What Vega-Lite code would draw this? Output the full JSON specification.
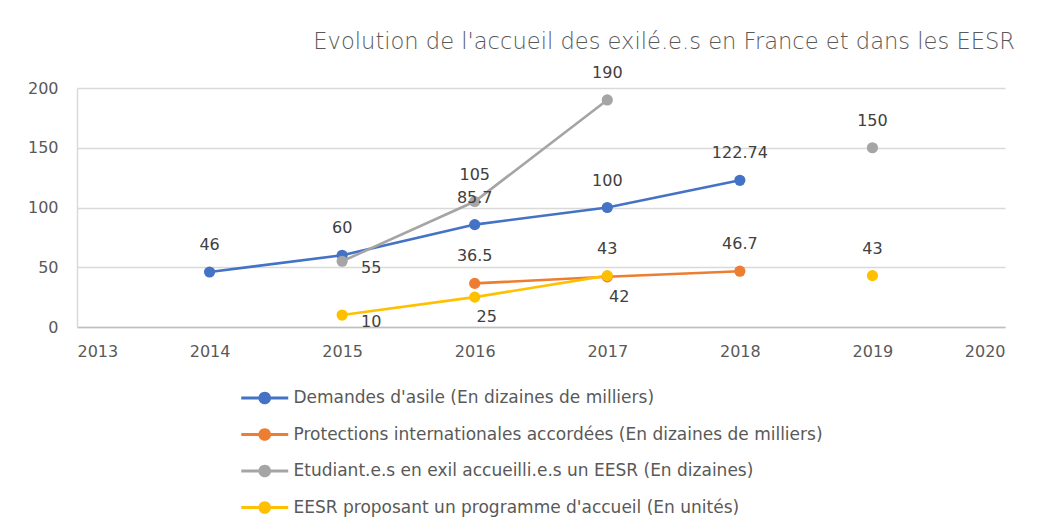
{
  "$schema": "https://vega.github.io/schema/vega-lite/v6.json",
  "autosize": "none",
  "width": 928,
  "height": 239,
  "padding": {"left": 77, "top": 88, "right": 32, "bottom": 203},
  "background": "white",
  "config": {
    "font": "DejaVu Sans",
    "view": {"stroke": null},
    "axis": {"labelFont": "DejaVu Sans", "labelFontSize": 16, "labelColor": "#595959", "ticks": false, "title": null},
    "legend": {"labelFont": "DejaVu Sans", "labelFontSize": 17, "labelColor": "#595959", "labelLimit": 0}
  },
  "title": {
    "text": "Evolution de l'accueil des exilé.e.s en France et dans les EESR",
    "anchor": "end",
    "fontSize": 22.6,
    "fontWeight": 300,
    "font": "DejaVu Sans",
    "color": "#595959",
    "dx": 10,
    "dy": -7
  },
  "data": {
    "values": [
      {"year": 2014, "series": "Demandes d'asile (En dizaines de milliers)", "value": 46},
      {"year": 2015, "series": "Demandes d'asile (En dizaines de milliers)", "value": 60},
      {"year": 2016, "series": "Demandes d'asile (En dizaines de milliers)", "value": 85.7},
      {"year": 2017, "series": "Demandes d'asile (En dizaines de milliers)", "value": 100},
      {"year": 2018, "series": "Demandes d'asile (En dizaines de milliers)", "value": 122.74},
      {"year": 2016, "series": "Protections internationales accordées (En dizaines de milliers)", "value": 36.5},
      {"year": 2017, "series": "Protections internationales accordées (En dizaines de milliers)", "value": 42},
      {"year": 2018, "series": "Protections internationales accordées (En dizaines de milliers)", "value": 46.7},
      {"year": 2015, "series": "Etudiant.e.s en exil accueilli.e.s un EESR (En dizaines)", "value": 55},
      {"year": 2016, "series": "Etudiant.e.s en exil accueilli.e.s un EESR (En dizaines)", "value": 105},
      {"year": 2017, "series": "Etudiant.e.s en exil accueilli.e.s un EESR (En dizaines)", "value": 190},
      {"year": 2018, "series": "Etudiant.e.s en exil accueilli.e.s un EESR (En dizaines)", "value": null},
      {"year": 2019, "series": "Etudiant.e.s en exil accueilli.e.s un EESR (En dizaines)", "value": 150},
      {"year": 2015, "series": "EESR proposant un programme d'accueil (En unités)", "value": 10},
      {"year": 2016, "series": "EESR proposant un programme d'accueil (En unités)", "value": 25},
      {"year": 2017, "series": "EESR proposant un programme d'accueil (En unités)", "value": 43},
      {"year": 2018, "series": "EESR proposant un programme d'accueil (En unités)", "value": null},
      {"year": 2019, "series": "EESR proposant un programme d'accueil (En unités)", "value": 43}
    ]
  },
  "encoding": {
    "x": {
      "field": "year", "type": "quantitative",
      "scale": {"domain": [2013, 2020], "nice": false, "zero": false},
      "axis": {"values": [2013, 2014, 2015, 2016, 2017, 2018, 2019, 2020], "format": "d", "grid": false, "domainColor": "#BFBFBF", "domainWidth": 1.5, "labelPadding": 16}
    },
    "y": {
      "field": "value", "type": "quantitative",
      "scale": {"domain": [0, 200], "nice": false},
      "axis": {"values": [0, 50, 100, 150, 200], "grid": true, "gridColor": "#D9D9D9", "gridWidth": 1.5, "domainColor": "#D9D9D9", "domainWidth": 1.5, "labelPadding": 19}
    }
  },
  "layer": [
    {
      "mark": {"type": "line", "strokeWidth": 2.6, "invalid": "break-paths-filter-domains"},
      "encoding": {
        "color": {
          "field": "series", "type": "nominal",
          "scale": {
            "domain": [
              "Demandes d'asile (En dizaines de milliers)",
              "Protections internationales accordées (En dizaines de milliers)",
              "Etudiant.e.s en exil accueilli.e.s un EESR (En dizaines)",
              "EESR proposant un programme d'accueil (En unités)"
            ],
            "range": ["#4472C4", "#ED7D31", "#A5A5A5", "#FFC000"]
          },
          "legend": {
            "title": null,
            "orient": "none",
            "legendX": 175.75,
            "legendY": 298,
            "direction": "vertical",
            "symbolType": "M-2,-0.12H2V0.12H-2Z M0.54,0A0.54,0.54,0,1,1,-0.54,0A0.54,0.54,0,1,1,0.54,0Z",
            "symbolSize": 552,
            "labelOffset": 16.75,
            "rowPadding": 16.5,
            "encode": {
              "symbols": {
                "update": {
                  "fill": {"scale": "color", "field": "value"},
                  "strokeWidth": {"value": 0},
                  "opacity": {"value": 1}
                }
              }
            }
          }
        }
      }
    },
    {
      "mark": {"type": "point", "filled": true, "size": 125, "opacity": 1},
      "transform": [{"filter": "datum.value != null"}],
      "encoding": {"color": {"field": "series", "type": "nominal"}}
    },
    {
      "mark": {"type": "text", "fontSize": 16, "color": "#404040", "dy": -27, "font": "DejaVu Sans"},
      "transform": [
        {"filter": "datum.value != null"},
        {"filter": "!((datum.series == \"Protections internationales accordées (En dizaines de milliers)\" && datum.year == 2017) || (datum.series == \"Etudiant.e.s en exil accueilli.e.s un EESR (En dizaines)\" && datum.year == 2015) || (datum.series == \"EESR proposant un programme d'accueil (En unités)\" && datum.year <= 2016))"}
      ],
      "encoding": {"text": {"field": "value", "type": "nominal"}}
    },
    {
      "mark": {"type": "text", "fontSize": 16, "color": "#404040", "dx": 12, "dy": 20, "font": "DejaVu Sans"},
      "transform": [
        {"filter": "(datum.series == \"Protections internationales accordées (En dizaines de milliers)\" && datum.year == 2017) || (datum.series == \"EESR proposant un programme d'accueil (En unités)\" && datum.year == 2016)"}
      ],
      "encoding": {"text": {"field": "value", "type": "nominal"}}
    },
    {
      "mark": {"type": "text", "fontSize": 16, "color": "#404040", "dx": 29, "dy": 7, "font": "DejaVu Sans"},
      "transform": [
        {"filter": "(datum.series == \"Etudiant.e.s en exil accueilli.e.s un EESR (En dizaines)\" && datum.year == 2015) || (datum.series == \"EESR proposant un programme d'accueil (En unités)\" && datum.year == 2015)"}
      ],
      "encoding": {"text": {"field": "value", "type": "nominal"}}
    }
  ]
}
